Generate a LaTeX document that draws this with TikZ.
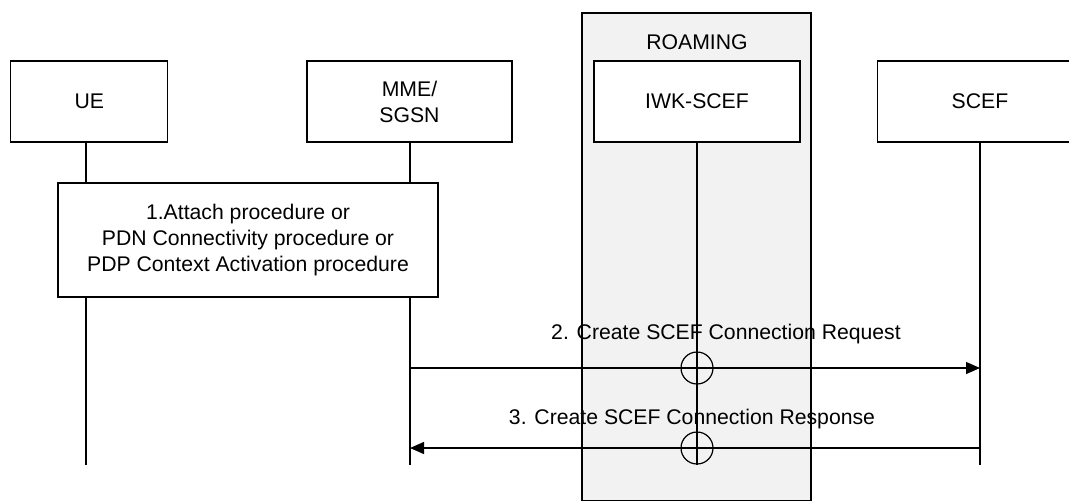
\documentclass[tikz,border=0pt]{standalone}
\usepackage{fontspec}
\setmainfont{Liberation Sans}
\usepackage{tikz}
\usetikzlibrary{calc}
\usetikzlibrary{shapes}
\usetikzlibrary{arrows.meta}
\definecolor{roamgray}{RGB}{242,242,242}
\newcommand{\entity}[4]{\node[shape=rectangle,draw,fill=white,line width=0.9pt,minimum width=#3,minimum height=60.75pt,align=center,inner sep=0pt] (#1) at ( #2 , 101.5 ) {#4};}
\newcommand{\lifeline}[2]{\coordinate (#1end) at ( #2 , 465 ); \draw[line width=0.9pt] (#1.south -| #1end) -- (#1end);}
\newcommand{\crossing}[3]{\node[shape=circle,draw,line width=0.9pt,minimum size=24pt,inner sep=0pt] (#1) at ( #2 , #3 ) {};}

\begin{document}
\begin{tikzpicture}[x=0.75pt,y=-0.75pt,font=\fontsize{15.9}{19.5}\selectfont]
        \useasboundingbox (0,0) rectangle (1069,500);

        % roaming
        \node[shape=rectangle,draw,fill=roamgray,line width=0.9pt,minimum width=171.75pt,minimum height=366pt,inner sep=0pt] (roam) at ( 696.5 , 257 ) {};
        \node (roamlabel) at ( 697 , 42 ) {ROAMING};

        % entities
        \entity{ue}{89.3}{117.75pt}{UE}
        \entity{mme}{409.5}{153.75pt}{MME/\\SGSN}
        \entity{iwk}{697}{154.5pt}{IWK-SCEF}
        \entity{scef}{980}{153.75pt}{SCEF}

        \lifeline{ue}{86}
        \lifeline{mme}{410}
        \lifeline{iwk}{697}
        \lifeline{scef}{980}

        % step 1
        \node[shape=rectangle,draw,fill=white,line width=0.9pt,minimum width=285pt,minimum height=85.5pt,align=center] (attach) at ( 248 , 240 ) {1.Attach procedure or\\PDN Connectivity procedure or\\PDP Context Activation procedure};

        % step 2
        \coordinate (mme2) at ( 410 , 368 );
        \coordinate (scef2) at ( 980 , 368 );
        \draw[line width=0.9pt,-{Triangle[length=10.5pt,width=9pt]}] (mme2) -- (scef2);
        \crossing{cross2}{697}{368}
        \node (req) at ( 726 , 334 ) {2. Create SCEF Connection Request};

        % step 3
        \coordinate (scef3) at ( 980 , 448 );
        \coordinate (mme3) at ( 410 , 448 );
        \draw[line width=0.9pt,-{Triangle[length=10.5pt,width=9pt]}] (scef3) -- (mme3);
        \crossing{cross3}{697}{448}
        \node (resp) at ( 692 , 419 ) {3. Create SCEF Connection Response};

    \end{tikzpicture}
\end{document}
